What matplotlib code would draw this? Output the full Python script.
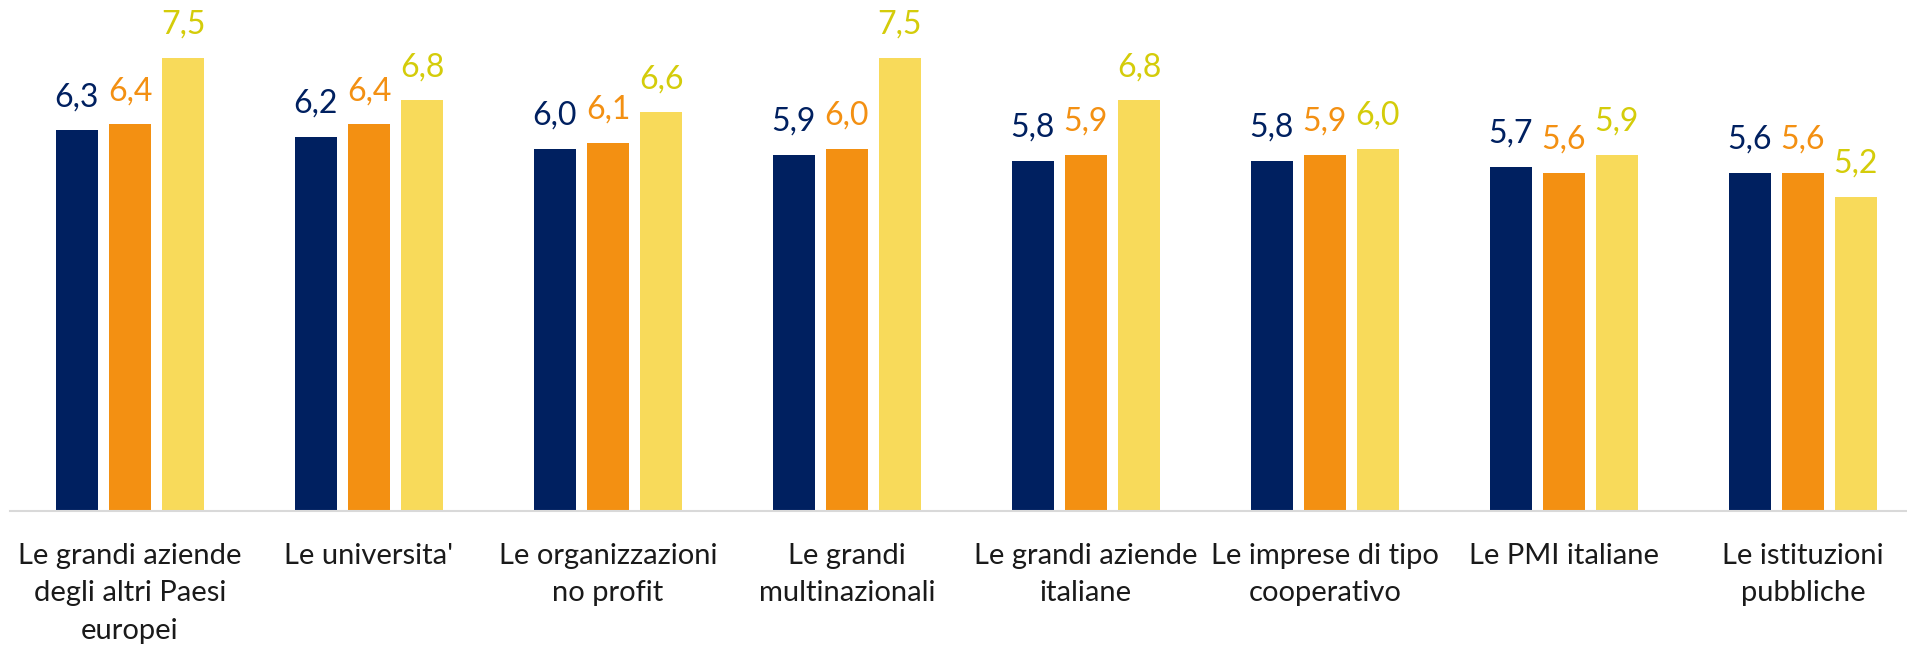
import numpy as np
import matplotlib
matplotlib.use("Agg")
import matplotlib.pyplot as plt

categories = [
    "Le grandi aziende\ndegli altri Paesi\neuropei",
    "Le universita'",
    "Le organizzazioni\nno profit",
    "Le grandi\nmultinazionali",
    "Le grandi aziende\nitaliane",
    "Le imprese di tipo\ncooperativo",
    "Le PMI italiane",
    "Le istituzioni\npubbliche",
]
serie_blu = [6.3, 6.2, 6.0, 5.9, 5.8, 5.8, 5.7, 5.6]
serie_arancio = [6.4, 6.4, 6.1, 6.0, 5.9, 5.9, 5.6, 5.6]
serie_giallo = [7.5, 6.8, 6.6, 7.5, 6.8, 6.0, 5.9, 5.2]

plt.rcParams["font.family"] = ["Lato", "DejaVu Sans"]

fig = plt.figure(figsize=(19.08, 6.45), dpi=100)
ax = fig.add_axes([10.5 / 1908, 134 / 645, 1 - 10.5 / 1908, 1 - 134 / 645])

x = np.arange(len(categories))
w = 0.176
pitch = 0.222
series = [
    (serie_blu, "#002060", "#002060"),
    (serie_arancio, "#F39012", "#F39012"),
    (serie_giallo, "#F8DA5A", "#D4CC0A"),
]
for i, (vals, col, tcol) in enumerate(series):
    pos = x + (i - 1) * pitch
    bars = ax.bar(pos, vals, width=w, color=col)
    for b, v in zip(bars, vals):
        ax.annotate(f"{v:.1f}".replace(".", ","),
                    (b.get_x() + b.get_width() / 2, b.get_height()),
                    xytext=(0, 13), textcoords="offset points",
                    ha="center", va="bottom", color=tcol, fontsize=23)

ax.set_xlim(-0.5, 7.44)
ax.set_ylim(0, 8.46)
ax.set_xticks(x)
ax.set_xticklabels(categories, fontsize=21, color="#1a1a1a", linespacing=1.55)
ax.tick_params(axis="x", length=0, pad=23)
ax.set_yticks([])
for s in ["top", "right", "left"]:
    ax.spines[s].set_visible(False)
ax.spines["bottom"].set_color("#D9D9D9")
ax.spines["bottom"].set_linewidth(1.5)

fig.savefig("out.png", dpi=100)
